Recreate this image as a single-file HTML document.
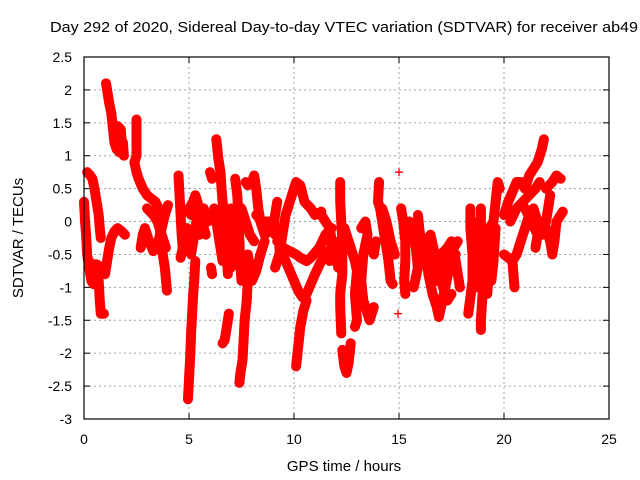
<!DOCTYPE html>
<html><head><meta charset="utf-8"><style>
body{margin:0;background:#fff}
svg{display:block;font-family:"Liberation Sans",sans-serif}
</style></head><body>
<svg id="chart" width="640" height="480" viewBox="0 0 640 480" xmlns="http://www.w3.org/2000/svg">
<text x="50" y="32" font-size="15" textLength="588" lengthAdjust="spacingAndGlyphs">Day 292 of 2020, Sidereal Day-to-day VTEC variation (SDTVAR) for receiver ab49</text>
<g id="grid"></g>
<g id="ticks"></g>
<g id="marks"></g>
<rect x="84" y="57" width="525" height="362" fill="none" stroke="#000" stroke-width="1.2"/>
<text x="344" y="471" font-size="15" text-anchor="middle">GPS time / hours</text>
<text transform="translate(23,238) rotate(-90)" font-size="15" text-anchor="middle">SDTVAR / TECUs</text>
</svg>
<script>
const xTicks=[0,5,10,15,20,25];
const yTicks=[2.5,2,1.5,1,0.5,0,-0.5,-1,-1.5,-2,-2.5,-3];
const yTickLabels=["2.5","2","1.5","1","0.5","0","-0.5","-1","-1.5","-2","-2.5","-3"];
const tracks=[
[[0,0.3],[0.05,0],[0.1,-0.2],[0.15,-0.5],[0.25,-0.7],[0.35,-0.9],[0.45,-0.95]],
[[0.2,-0.6],[0.4,-0.65],[0.6,-0.65],[0.8,-0.7]],
[[0.15,0.75],[0.3,0.7],[0.4,0.65],[0.5,0.5],[0.6,0.3],[0.7,0.1],[0.75,-0.1],[0.8,-0.25]],
[[0.6,-0.75],[0.7,-0.9],[0.75,-1.2],[0.8,-1.4],[0.95,-1.4]],
[[1.05,2.1],[1.1,2.0],[1.2,1.8],[1.3,1.65],[1.35,1.5],[1.45,1.2],[1.55,1.1],[1.7,1.05],[1.85,1.2],[1.9,1.0]],
[[1.6,1.45],[1.75,1.4],[1.8,1.2]],
[[1.0,-0.8],[1.1,-0.6],[1.2,-0.4],[1.3,-0.25],[1.45,-0.15],[1.6,-0.1],[1.8,-0.15],[1.95,-0.2]],
[[2.5,1.55],[2.5,1.0],[2.4,0.9],[2.5,0.75],[2.6,0.65],[2.8,0.5],[3.0,0.4],[3.2,0.35],[3.4,0.3],[3.55,0.2],[3.6,0.0],[3.65,-0.3],[3.75,-0.5],[3.85,-0.7],[3.95,-1.05]],
[[2.7,-0.4],[2.8,-0.2],[2.9,-0.1],[3.1,-0.3],[3.3,-0.45],[3.5,-0.35],[3.7,-0.1],[3.85,0.1],[4.0,0.25]],
[[3.0,0.2],[3.3,0.1],[3.5,0.0],[3.7,-0.2],[3.9,-0.4]],
[[4.5,0.7],[4.55,0.4],[4.6,0.1],[4.65,-0.2],[4.7,-0.4],[4.6,-0.55]],
[[4.95,-2.7],[5.0,-2.4],[5.05,-2.1],[5.1,-1.7],[5.15,-1.4],[5.2,-1.1],[5.25,-0.9],[5.3,-0.6]],
[[4.85,0.15],[5.0,0.2],[5.2,0.3],[5.3,0.4],[5.4,0.3],[5.5,0.15],[5.6,0.0],[5.7,-0.1],[5.8,-0.2]],
[[4.9,-0.1],[5.0,-0.3],[5.1,-0.5],[5.2,-0.3],[5.35,0.0],[5.5,-0.2]],
[[5.1,0.1],[5.3,0.1],[5.5,0.0],[5.7,0.2],[5.9,0.0]],
[[6.0,0.75],[6.1,0.65]],[[6.05,-0.7],[6.1,-0.8]],
[[6.3,1.25],[6.35,1.1],[6.4,0.95],[6.5,0.75],[6.55,0.5],[6.6,0.3],[6.7,0.1],[6.75,-0.2],[6.8,-0.5],[6.85,-0.8]],
[[6.2,0.2],[6.3,0.0],[6.4,-0.2],[6.5,-0.4],[6.6,-0.6]],
[[6.6,-1.85],[6.7,-1.8],[6.8,-1.6],[6.9,-1.4]],
[[7.0,0.2],[7.1,0.0],[7.2,-0.3],[7.1,-0.5],[7.0,-0.7]],
[[7.2,0.65],[7.3,0.4],[7.35,0.1],[7.4,-0.3],[7.45,-0.7],[7.5,-0.9]],
[[7.4,-2.45],[7.45,-2.3],[7.55,-2.1],[7.6,-1.8],[7.65,-1.5],[7.75,-1.2],[7.8,-0.9]],
[[7.5,0.2],[7.7,0.0],[7.9,-0.2],[8.1,-0.3]],
[[7.7,0.6],[7.8,0.55],[8.0,0.6],[8.1,0.7],[8.2,0.5],[8.3,0.2],[8.4,0.0],[8.5,-0.1],[8.6,-0.2],[8.8,-0.15],[9.0,-0.1],[9.1,0.1],[9.2,0.3]],
[[8.2,0.1],[8.5,0.0],[8.8,0.0],[9.1,-0.2],[9.3,-0.1]],
[[7.8,-0.5],[7.9,-0.7],[8.0,-0.9],[8.2,-0.75],[8.4,-0.5],[8.6,-0.3]],
[[9.2,-0.3],[9.5,-0.4],[9.8,-0.45],[10.1,-0.5],[10.3,-0.55],[10.6,-0.6],[10.8,-0.55],[11.2,-0.4],[11.5,-0.2],[11.8,-0.1]],
[[9.3,-0.4],[9.6,-0.6],[9.8,-0.75],[10.0,-0.9],[10.2,-1.05],[10.4,-1.15],[10.6,-1.1],[10.8,-0.95],[11.0,-0.8],[11.3,-0.6],[11.6,-0.45]],
[[9.1,-0.7],[9.3,-0.5],[9.6,0.1],[9.9,0.4],[10.1,0.6],[10.3,0.55],[10.5,0.3],[10.8,0.2],[11.0,0.1],[11.3,0.15]],
[[10.1,-2.2],[10.2,-1.9],[10.3,-1.6],[10.45,-1.35],[10.6,-1.2]],
[[11.3,0.1],[11.5,0.0],[11.7,-0.1],[11.8,-0.3],[11.7,-0.6]],
[[11.9,-0.3],[12.0,-0.5],[12.1,-0.7]],
[[12.2,0.6],[12.2,0.3],[12.25,0],[12.3,-0.3],[12.3,-0.8],[12.2,-1.1],[12.2,-1.3],[12.25,-1.7]],
[[12.3,-1.95],[12.4,-2.2],[12.5,-2.3],[12.6,-2.15],[12.7,-1.85]],
[[12.4,-0.1],[12.6,-0.3],[12.8,-0.5],[12.9,-0.6],[13.0,-0.75],[12.9,-1.1],[13.0,-1.5],[12.9,-1.6]],
[[13.2,-0.1],[13.4,0.0],[13.5,-0.2],[13.3,-0.5],[13.2,-0.9],[13.3,-1.2],[13.4,-1.3],[13.6,-1.5],[13.7,-1.4],[13.8,-1.3]],
[[13.7,-0.4],[13.8,-0.5],[13.9,-0.3]],
[[14.05,0.6],[14.0,0.3],[14.1,0.2],[14.2,0.0],[14.3,-0.2],[14.4,-0.4],[14.5,-0.6],[14.6,-0.9],[14.7,-0.95]],
[[14.2,0.2],[14.4,0.0],[14.6,-0.3],[14.8,-0.5]],
[[15.0,0.75]],[[14.95,-1.4]],
[[15.1,0.2],[15.2,0.0],[15.3,-0.3],[15.3,-0.6],[15.25,-0.9],[15.3,-1.1]],
[[15.5,0.0],[15.7,-0.2],[15.8,-0.4],[15.9,-0.7],[15.7,-1.0]],
[[15.9,0.1],[16.0,-0.2]],
[[16.1,-0.3],[16.3,-0.5],[16.4,-0.8],[16.6,-1.1],[16.8,-1.3],[16.9,-1.45],[17.0,-1.3],[17.2,-1.0],[17.4,-0.7],[17.6,-0.4],[17.8,-0.3]],
[[16.3,-0.3],[16.5,-0.2],[16.7,-0.5],[16.9,-0.8],[17.1,-1.0],[17.3,-1.2],[17.5,-1.1]],
[[16.2,-0.6],[16.5,-0.7],[16.8,-0.9],[17.0,-0.7],[17.4,-0.5],[17.7,-0.5]],
[[17.0,-0.5],[17.3,-0.4],[17.5,-0.3],[17.7,-0.6],[17.9,-1.0]],
[[18.4,0.2],[18.4,-0.1],[18.5,-0.5],[18.5,-0.9],[18.3,-1.4]],
[[18.5,0.0],[18.6,-0.3],[18.7,-0.7],[18.7,-1.0]],
[[18.9,0.2],[18.9,-0.3],[19.0,-0.6],[19.0,-1.0],[18.9,-1.5],[18.9,-1.65]],
[[19.2,-0.3],[19.3,-0.7],[19.2,-1.1]],
[[19.1,-0.2],[19.3,-0.1],[19.5,0.0],[19.6,0.3],[19.7,0.6],[19.8,0.5]],
[[19.3,-0.5],[19.5,-0.3],[19.6,-0.1],[19.5,-0.6],[19.4,-0.9]],
[[20.0,0.1],[20.2,0.3],[20.4,0.45],[20.6,0.6],[20.8,0.6],[21.0,0.5],[21.2,0.7],[21.4,0.8],[21.6,0.9],[21.8,1.1],[21.9,1.25]],
[[20.3,0.0],[20.6,0.2],[20.9,0.3],[21.2,0.4],[21.5,0.5],[21.7,0.6]],
[[21.0,0.2],[21.3,0.0],[21.6,-0.2],[21.5,-0.4]],
[[20.0,-0.5],[20.2,-0.55],[20.4,-0.6],[20.6,-0.5],[20.8,-0.3],[21.0,-0.1],[21.2,0.1],[21.4,0.2],[21.6,0.0],[21.8,-0.2],[22.0,0.0],[22.2,0.4]],
[[20.4,-0.6],[20.45,-0.8],[20.5,-1.0]],
[[22.0,0.5],[22.3,0.6],[22.5,0.7],[22.7,0.65]],
[[22.0,-0.1],[22.2,-0.3],[22.3,-0.5],[22.4,-0.3],[22.5,0.0],[22.7,0.1],[22.8,0.15]]
];
const NS="http://www.w3.org/2000/svg";
const X0=84,X1=609,Y0=419,Y1=57;
function xs(v){return X0+(v-0)/(25-0)*(X1-X0);}
function ys(v){return Y0-(v+3)/(5.5)*(Y0-Y1);}
function mk(tag,attrs,parent){const e=document.createElementNS(NS,tag);for(const k in attrs)e.setAttribute(k,attrs[k]);parent.appendChild(e);return e;}
const grid=document.getElementById('grid'),ticks=document.getElementById('ticks'),marks=document.getElementById('marks');
xTicks.forEach(t=>{
  const x=xs(t);
  if(t>0&&t<25){const g=mk('line',{x1:x,x2:x,y1:Y1,y2:Y0,stroke:'#a0a0a0','stroke-dasharray':'2,3'},grid);
  
  }
  mk('line',{x1:x,x2:x,y1:Y0,y2:Y0-6,stroke:'#000'},ticks);
  mk('line',{x1:x,x2:x,y1:Y1,y2:Y1+6,stroke:'#000'},ticks);
  const l=mk('text',{x:x,y:444,'font-size':14,'text-anchor':'middle'},ticks);
  l.textContent=String(t);
  
  
});
yTicks.forEach((t,i)=>{
  const y=ys(t);
  if(i>0&&i<yTicks.length-1){const g=mk('line',{x1:X0,x2:X1,y1:y,y2:y,stroke:'#a0a0a0','stroke-dasharray':'2,3'},grid);
  
  }
  mk('line',{x1:X0,x2:X0+6,y1:y,y2:y,stroke:'#000'},ticks);
  mk('line',{x1:X1,x2:X1-6,y1:y,y2:y,stroke:'#000'},ticks);
  const l=mk('text',{x:72,y:y+5,'font-size':14,'text-anchor':'end'},ticks);
  l.textContent=yTickLabels[i];
  
  
});
tracks.forEach(tr=>{
  const pts=tr.map(p=>xs(p[0])+','+ys(p[1])).join(' ');
  const pl=mk('polyline',{points:pts,fill:'none',stroke:'#ff0000','stroke-width':10,'stroke-linejoin':'round','stroke-linecap':'round'},marks);
  
  
  tr.forEach(p=>{
    const x=xs(p[0]),y=ys(p[1]);
    const m=mk('path',{d:`M${x-4},${y}H${x+4}M${x},${y-4}V${y+4}`,stroke:'#ff0000','stroke-width':1.3},marks);
    
    
  });
});
</script>
</body></html>
